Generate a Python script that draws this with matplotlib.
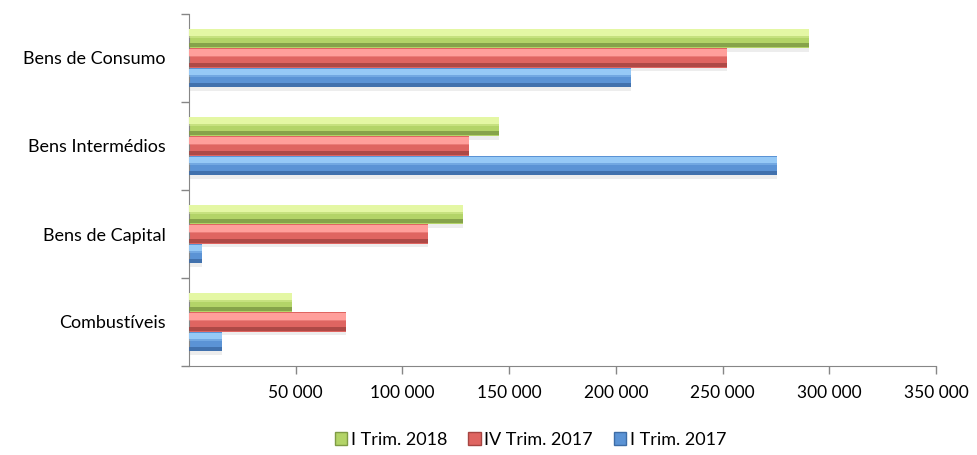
import matplotlib.pyplot as plt
import numpy as np
from matplotlib.patches import Patch

categories = ["Combustíveis", "Bens de Capital", "Bens Intermédios", "Bens de Consumo"]
series = ["I Trim. 2018", "IV Trim. 2017", "I Trim. 2017"]
values = {
    "I Trim. 2018": [48100, 128500, 145300, 290700],
    "IV Trim. 2017": [73600, 111900, 131200, 252000],
    "I Trim. 2017": [15300, 5900, 275500, 207100],
}
xticks = [50000, 100000, 150000, 200000, 250000, 300000, 350000]

# light / mid / dark shades for a bevel look
shades = {
    "I Trim. 2018": ("#e4f7a4", "#b3d468", "#7f9b45"),
    "IV Trim. 2017": ("#ff9f9b", "#df6561", "#a64542"),
    "I Trim. 2017": ("#96c9f6", "#5b93d5", "#3d6ca6"),
}

plt.rcParams["font.family"] = ["Lato", "DejaVu Sans"]
fig = plt.figure(figsize=(9.77, 4.55), dpi=100)
ax = fig.add_axes([189 / 977, 1 - 366 / 455, (936 - 189) / 977, (366 - 14) / 455])

y = np.arange(len(categories))
h = 0.225
offsets = {"I Trim. 2018": h, "IV Trim. 2017": 0.0, "I Trim. 2017": -h}
for s in series:
    light, mid, dark = shades[s]
    yy = y + offsets[s]
    v = values[s]
    # soft shadow under each bar
    ax.barh(yy - 0.05, v, height=h * 0.9, color="#000000", alpha=0.07, zorder=1)
    ax.barh(yy, v, height=h * 0.96, color=mid, zorder=2)
    ax.barh(yy + h * 0.28, v, height=h * 0.32, color=light, zorder=3)
    ax.barh(yy + h * 0.08, v, height=h * 0.1, color=light, alpha=0.4, zorder=3)
    ax.barh(yy - h * 0.35, v, height=h * 0.22, color=dark, alpha=0.85, zorder=3)

ax.set_xlim(0, 350000)
ax.set_ylim(-0.5, len(categories) - 0.5)
ax.set_xticks(xticks)
ax.set_xticklabels([f"{t:,}".replace(",", " ") for t in xticks], fontsize=12.5)
ax.set_yticks(y)
ax.set_yticklabels(categories, fontsize=13)
ax.set_yticks(np.arange(len(categories) + 1) - 0.5, minor=True)
ax.tick_params(axis="y", which="major", length=0, pad=17)
ax.tick_params(axis="y", which="minor", length=6, color="#868686", width=1)
ax.tick_params(axis="x", length=6, color="#868686", width=1, pad=8)
for side in ["top", "right"]:
    ax.spines[side].set_visible(False)
for side in ["left", "bottom"]:
    ax.spines[side].set_color("#868686")

handles = [Patch(facecolor=shades[s][1], edgecolor=shades[s][2]) for s in series]
fig.legend(handles, series, loc="center", bbox_to_anchor=(0.543, 1 - 440 / 455), ncol=3,
           frameon=False, fontsize=13, handlelength=0.7, handleheight=0.7,
           handletextpad=0.2, columnspacing=1.15)

fig.savefig("out.png", dpi=100)
